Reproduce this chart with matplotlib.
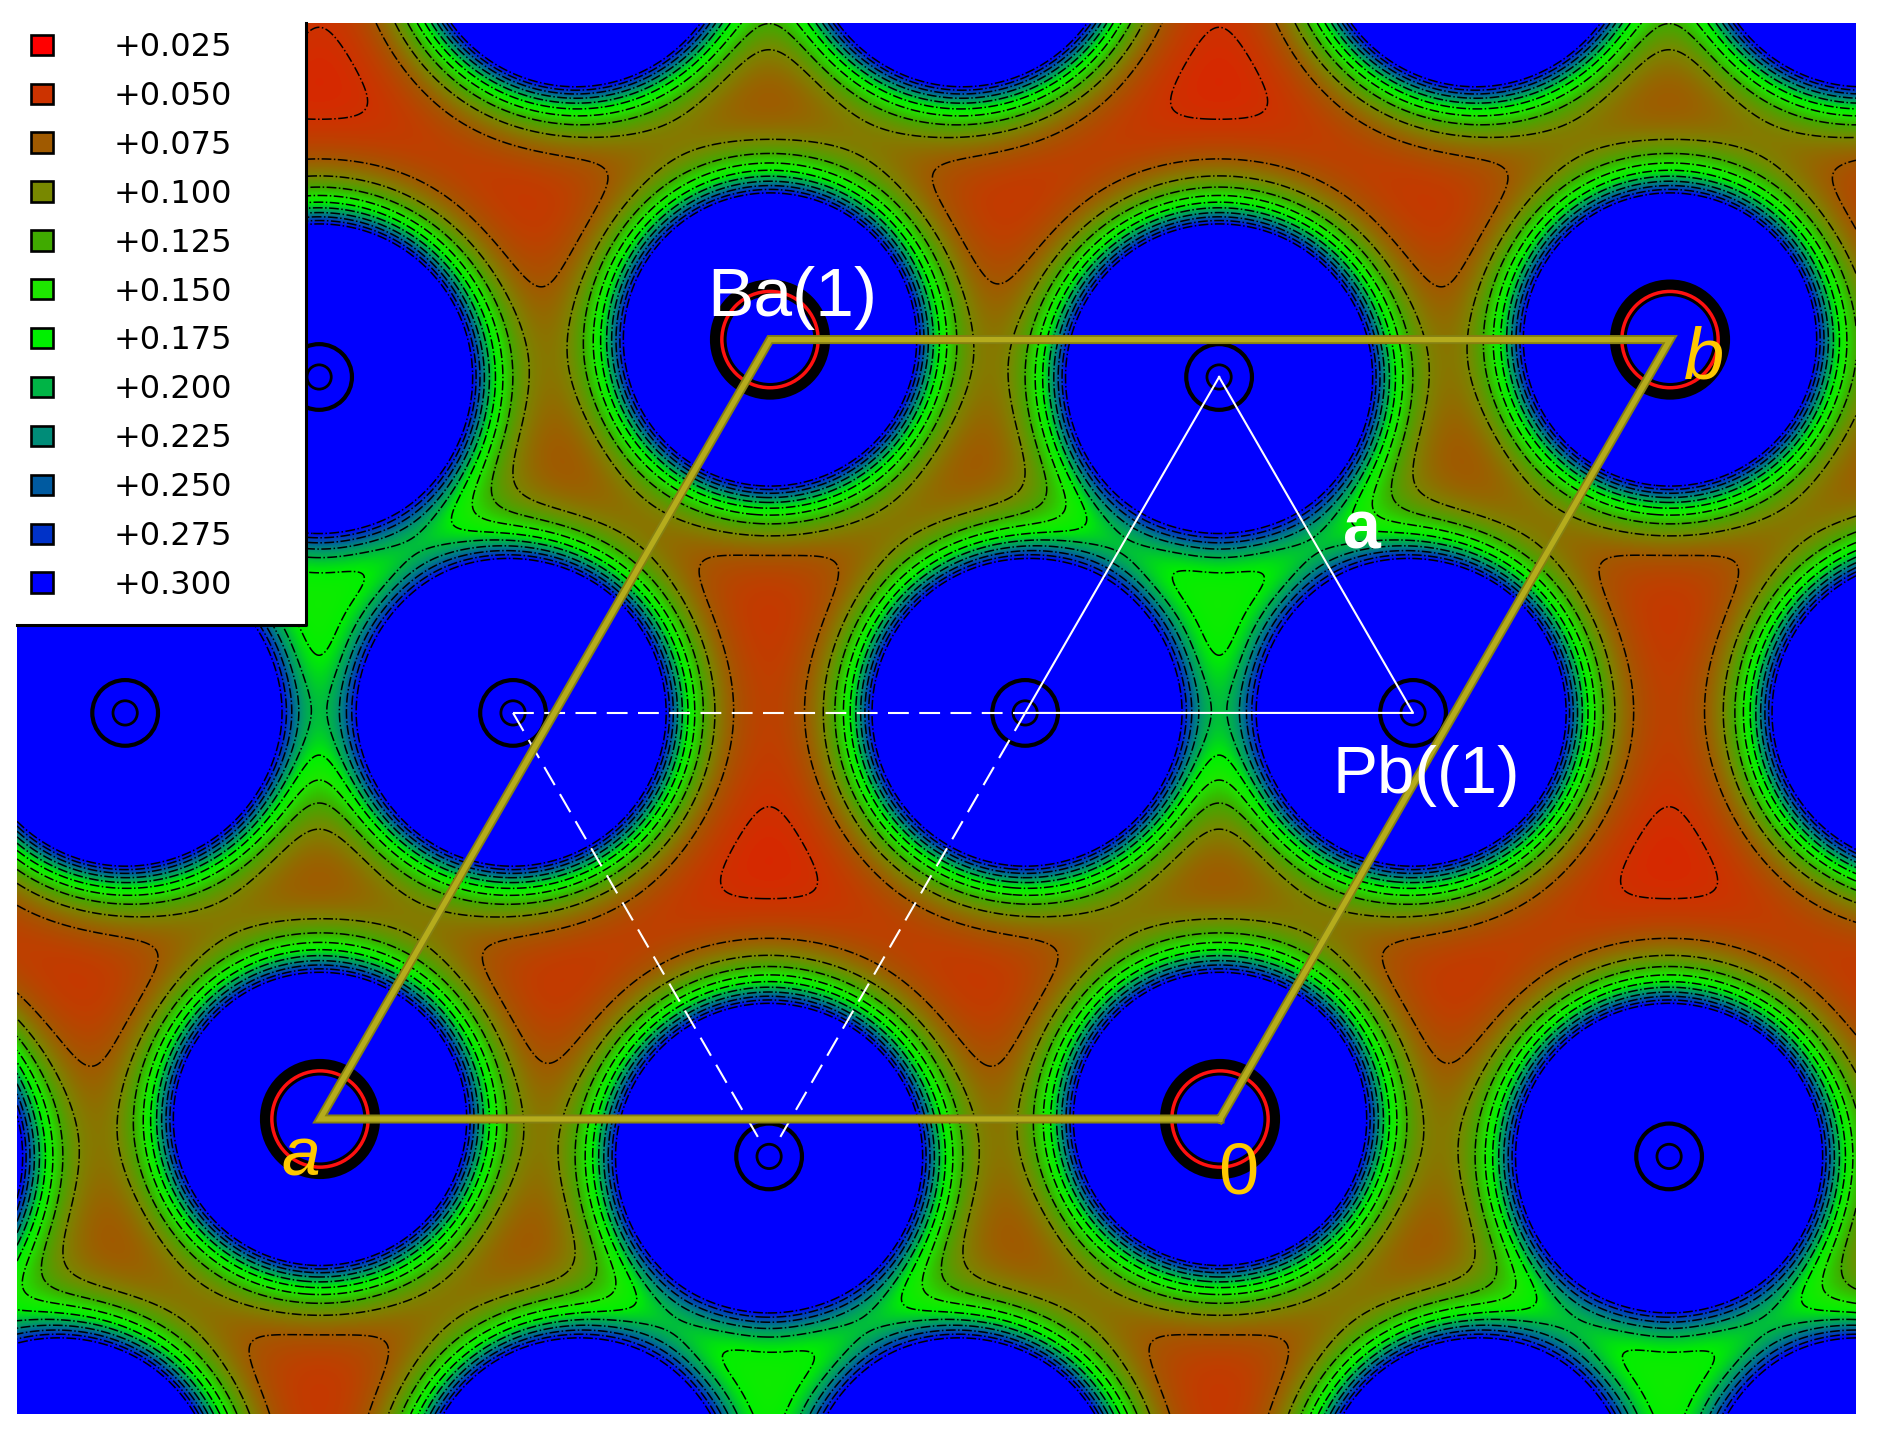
import numpy as np
import matplotlib
matplotlib.use("Agg")
import matplotlib.pyplot as plt
from matplotlib.colors import LinearSegmentedColormap
from matplotlib.patches import Circle, Rectangle, Patch

# ---- legend ----
level_labels = ["+0.025", "+0.050", "+0.075", "+0.100", "+0.125", "+0.150",
                "+0.175", "+0.200", "+0.225", "+0.250", "+0.275", "+0.300"]
levels = [0.025, 0.050, 0.075, 0.100, 0.125, 0.150,
          0.175, 0.200, 0.225, 0.250, 0.275, 0.300]
level_colors = ["#ff0000", "#cc3300", "#a05a00", "#788800", "#40aa00", "#1ee600",
                "#00f000", "#00b446", "#008c78", "#005aa0", "#0032c8", "#0000ff"]

# ---- crystal (hexagonal cell, fractional coordinates) ----
ba_sites = [(0.0, 0.0)]
pb_sites = [(0.477, 0.952), (0.477, 0.521), (0.046, 0.521)]
pocket_sites = [(1 / 3, 2 / 3)]
ba_strength = [19.2]
pb_strength = [23.4]
pocket_height = [0.03]
decay_length = 0.038
pocket_width = 0.04
background = 0.033

a_vec = np.array([-1.0, 0.0])
b_vec = np.array([0.5, np.sqrt(3) / 2])


def cart(frac):
    return frac[0] * a_vec + frac[1] * b_vec


FIG_W, FIG_H = 1880, 1440
PX_L, PX_R, PX_T, PX_B = 17, 1856, 23, 1414
PX_OX, PX_OY, PX_A = 1220, 1119, 900

fig = plt.figure(figsize=(FIG_W / 100, FIG_H / 100), dpi=100, facecolor="white")
ax = fig.add_axes([PX_L / FIG_W, 1 - PX_B / FIG_H, (PX_R - PX_L) / FIG_W, (PX_B - PX_T) / FIG_H])
xlim = ((PX_L - PX_OX) / PX_A, (PX_R - PX_OX) / PX_A)
ylim = ((PX_OY - PX_B) / PX_A, (PX_OY - PX_T) / PX_A)
ax.set_xlim(xlim)
ax.set_ylim(ylim)
ax.axis("off")

# ---- field: periodic sum over the atoms ----
xs = np.linspace(xlim[0], xlim[1], PX_R - PX_L)
ys = np.linspace(ylim[0], ylim[1], PX_B - PX_T)
X, Y = np.meshgrid(xs, ys)
Z = np.full_like(X, background)
shifts = [(i, j) for i in range(-3, 4) for j in range(-3, 4)]
ba_centres, pb_centres = [], []
for (i, j) in shifts:
    for s in ba_sites:
        c = cart((s[0] + i, s[1] + j))
        ba_centres.append(c)
        Z += ba_strength[0] * np.exp(-np.hypot(X - c[0], Y - c[1]) / decay_length)
    for s in pb_sites:
        c = cart((s[0] + i, s[1] + j))
        pb_centres.append(c)
        Z += pb_strength[0] * np.exp(-np.hypot(X - c[0], Y - c[1]) / decay_length)
    for s in pocket_sites:
        c = cart((s[0] + i, s[1] + j))
        Z += pocket_height[0] * np.exp(-((X - c[0]) ** 2 + (Y - c[1]) ** 2) / (2 * pocket_width ** 2))

cmap = LinearSegmentedColormap.from_list("charge", level_colors)
ax.imshow(Z, origin="lower", extent=(*xlim, *ylim), cmap=cmap, vmin=levels[0], vmax=levels[-1],
          interpolation="nearest", aspect="auto", zorder=1)
ax.contour(X, Y, Z, levels=levels, colors="black", linewidths=1.1, linestyles="dashdot", zorder=2)

# ---- core rings around the atoms ----
for c in ba_centres:
    ax.add_patch(Circle(c, 0.0575, fill=False, ec="black", lw=12, zorder=3))
    ax.add_patch(Circle(c, 0.0535, fill=False, ec="#ff1010", lw=2.5, zorder=3))
for c in pb_centres:
    ax.add_patch(Circle(c, 0.0365, fill=False, ec="black", lw=3, zorder=3))
    ax.add_patch(Circle(c, 0.0135, fill=False, ec="black", lw=2, zorder=3))

# ---- white triangles ----
p1, p2, p3 = [cart(s) for s in pb_sites]
tri = np.array([p1, p2, p3, p1])
ax.plot(tri[:, 0], tri[:, 1], color="white", lw=1.5, zorder=4)
left, bottom = p3 + a_vec, p1 - b_vec
for start, end in [(left, p2), (left, left + 0.97 * (bottom - left)), (p2, p2 + 0.97 * (bottom - p2))]:
    ax.plot([start[0], end[0]], [start[1], end[1]], color="white", lw=1.5, ls=(0, (10, 5)), zorder=4)

# ---- unit cell ----
cell = np.array([cart((0, 0)), cart((1, 0)), cart((1, 1)), cart((0, 1)), cart((0, 0))])
ax.plot(cell[:, 0], cell[:, 1], color="#858012", lw=6.5, solid_joinstyle="miter", zorder=5)
ax.plot(cell[:, 0], cell[:, 1], color="#b5ac1c", lw=3.8, solid_joinstyle="miter", zorder=5)

# ---- labels ----
sans = "Liberation Sans"
gold = "#ffc800"
ax.text(-0.570, 0.892, "Ba(1)", color="white", fontsize=50, family=sans, zorder=6)
ax.text(0.125, 0.362, "Pb((1)", color="white", fontsize=48.6, family=sans, zorder=6)
ax.text(0.137, 0.634, "a", color="white", fontsize=49, family=sans, weight="bold", zorder=6)
ax.text(-1.043, -0.063, "a", color=gold, fontsize=50, family=sans, style="italic", zorder=6)
ax.text(0.515, 0.823, "b", color=gold, fontsize=52, family=sans, style="italic", zorder=6)
ax.text(-0.002, -0.083, "0", color=gold, fontsize=52, family=sans, zorder=6)

# ---- legend box ----
box_w, box_h = 289 / (PX_R - PX_L), 602 / (PX_B - PX_T)
ax.add_patch(Rectangle((0, 1 - box_h), box_w, box_h, transform=ax.transAxes, fc="white", ec="none", zorder=10))
ax.plot([0, box_w, box_w], [1 - box_h, 1 - box_h, 1], transform=ax.transAxes, color="black", lw=2.2,
        zorder=11, clip_on=False)
handles = [Patch(fc=c, ec="black", lw=1.9, label=t) for c, t in zip(level_colors, level_labels)]
leg = ax.legend(handles=handles, loc="upper left", bbox_to_anchor=(0.0026, 1), borderaxespad=0,
                borderpad=0.285, frameon=False, fontsize=23, handlelength=0.7, handleheight=0.6,
                handletextpad=1.88, labelspacing=0.56)
leg.set_zorder(12)

fig.savefig("out.png", dpi=100, facecolor="white")
